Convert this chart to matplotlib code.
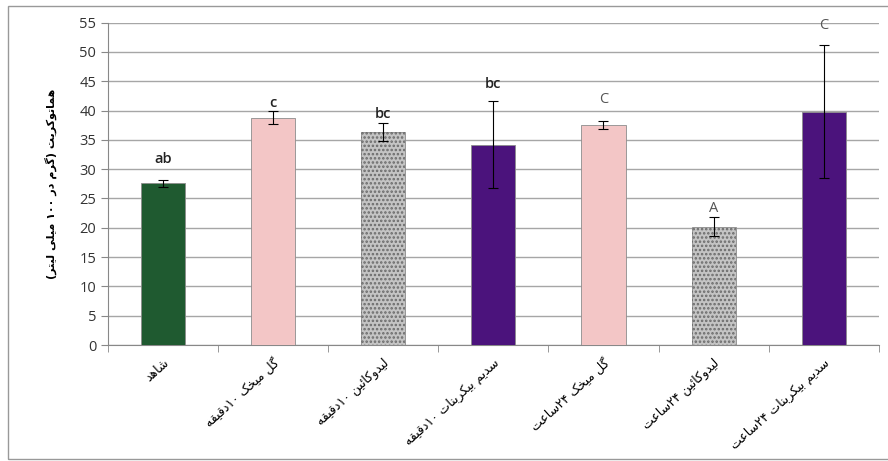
import matplotlib.pyplot as plt
from matplotlib.patches import Rectangle
import numpy as np

# data
labels = ['شاهد', 'گل میخک ۱۰دقیقه', 'لیدوکائین ۱۰دقیقه', 'سدیم بیکربنات ۱۰دقیقه',
          'گل میخک ۲۴ساعت', 'لیدوکائین ۲۴ساعت', 'سدیم بیکربنات ۲۴ساعت']
values = [27.6, 38.8, 36.3, 34.2, 37.5, 20.2, 39.8]
errors = [0.6, 1.1, 1.5, 7.5, 0.7, 1.6, 11.3]
letters = ['ab', 'c', 'bc', 'bc', 'C', 'A', 'C']
letter_y = [31.7, 41.2, 39.4, 44.5, 41.9, 23.3, 54.5]
colors = ['#1f5a30', '#f3c6c6', '#c4c4c4', '#4b137c', '#f3c6c6', '#c4c4c4', '#4b137c']
hatches = ['', '', '....', '', '', '....', '']
ylabel = 'هماتوکریت (گرم در ۱۰۰ میلی لیتر)'

# simple persian shaping (matplotlib has no RTL support)
# forms: isolated, final, initial, medial
forms = {
    'ا': ('\uFE8D', '\uFE8E'), 'د': ('\uFEA9', '\uFEAA'), 'ر': ('\uFEAD', '\uFEAE'),
    'و': ('\uFEED', '\uFEEE'),
    'ب': ('\uFE8F', '\uFE90', '\uFE91', '\uFE92'), 'ت': ('\uFE95', '\uFE96', '\uFE97', '\uFE98'),
    'خ': ('\uFEA5', '\uFEA6', '\uFEA7', '\uFEA8'), 'س': ('\uFEB1', '\uFEB2', '\uFEB3', '\uFEB4'),
    'ش': ('\uFEB5', '\uFEB6', '\uFEB7', '\uFEB8'), 'ع': ('\uFEC9', '\uFECA', '\uFECB', '\uFECC'),
    'ق': ('\uFED5', '\uFED6', '\uFED7', '\uFED8'), 'ل': ('\uFEDD', '\uFEDE', '\uFEDF', '\uFEE0'),
    'م': ('\uFEE1', '\uFEE2', '\uFEE3', '\uFEE4'), 'ن': ('\uFEE5', '\uFEE6', '\uFEE7', '\uFEE8'),
    'ه': ('\uFEE9', '\uFEEA', '\uFEEB', '\uFEEC'), 'ئ': ('\uFE89', '\uFE8A', '\uFE8B', '\uFE8C'),
    'ک': ('\uFB8E', '\uFB8F', '\uFB90', '\uFB91'), 'گ': ('\uFB92', '\uFB93', '\uFB94', '\uFB95'),
    'ی': ('\uFBFC', '\uFBFD', '\uFBFE', '\uFBFF'),
}


def shape(s):
    out = []
    for i, ch in enumerate(s):
        if ch not in forms:
            out.append(ch)
            continue
        prev = s[i - 1] if i > 0 else ''
        nxt = s[i + 1] if i + 1 < len(s) else ''
        join_prev = prev in forms and len(forms[prev]) == 4
        join_next = nxt in forms and len(forms[ch]) == 4
        f = forms[ch]
        if join_prev and join_next:
            out.append(f[3])
        elif join_prev:
            out.append(f[1])
        elif join_next:
            out.append(f[2])
        else:
            out.append(f[0])
    # visual order: reverse, keep digit runs left-to-right, mirror brackets
    vis = ''.join(out)[::-1]
    vis = vis.translate(str.maketrans('()', ')('))
    res, run = '', ''
    for ch in vis:
        if ch.isdigit():
            run += ch
        else:
            res += run[::-1] + ch
            run = ''
    return res + run[::-1]


plt.rcParams['font.family'] = ['Open Sans', 'DejaVu Sans']
plt.rcParams['hatch.linewidth'] = 1.2

fig = plt.figure(figsize=(8.88, 4.61), dpi=100)
ax = fig.add_axes([0.1216, 0.2516, 0.868, 0.6994])

x = np.arange(len(values))
ax.bar(x, values, width=0.4, color=colors, edgecolor='#8c8c8c', linewidth=0.6, zorder=3)
# granite-like texture on the grey bars
ax.bar(x, values, width=0.4, fill=False, hatch=hatches, edgecolor='#6a6a6a',
       linewidth=0, zorder=3)
ax.errorbar(x, values, yerr=errors, fmt='none', ecolor='black', elinewidth=0.8,
            capsize=3.5, capthick=0.8, zorder=4)

for xi, ly, t in zip(x, letter_y, letters):
    ax.text(xi, ly, t, ha='center', va='center', fontsize=10.5,
            color='#222222' if t.islower() else '#555555',
            fontweight='semibold' if t.islower() else 'normal')

ax.set_xlim(-0.5, 6.5)
ax.set_ylim(0, 55)
ax.set_yticks(range(0, 56, 5))
ax.tick_params(axis='y', labelsize=10.5, colors='#888888', labelcolor='#333333',
               length=5, direction='out')
ax.yaxis.grid(True, color='#a6a6a6', linewidth=1, zorder=0)

ax.set_xticks(x)
ax.set_xticklabels([shape(l) for l in labels], rotation=42, ha='right',
                   rotation_mode='anchor', fontsize=9, family=['DejaVu Sans'])
ax.tick_params(axis='x', length=0, pad=8)
ax.set_xticks(np.arange(-0.5, 7, 1), minor=True)
ax.tick_params(axis='x', which='minor', length=5, color='#888888')

for s in ['top', 'right']:
    ax.spines[s].set_visible(False)
ax.spines['left'].set_color('#888888')
ax.spines['bottom'].set_color('#888888')

ax.set_ylabel(shape(ylabel), fontsize=8, family=['DejaVu Sans'], fontweight='bold',
              labelpad=16)

# outer chart frame
fig.patches.append(Rectangle((0.009, 0.005), 0.995, 0.983, transform=fig.transFigure,
                             fill=False, edgecolor='#999999', linewidth=1))

fig.savefig('out.png', dpi=100)
